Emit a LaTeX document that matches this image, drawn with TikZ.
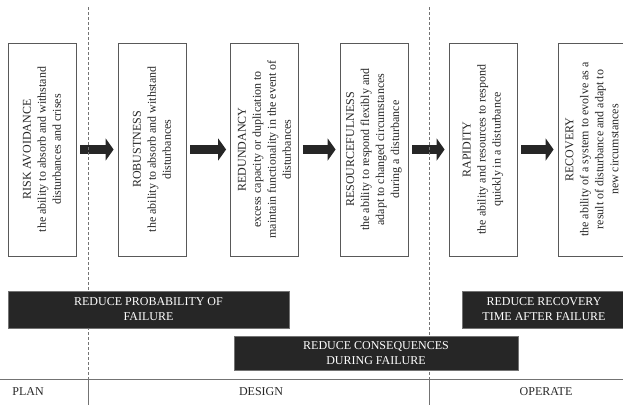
\documentclass[tikz,border=0pt]{standalone}
\usepackage{fontspec}
\setmainfont{Liberation Serif}
\usetikzlibrary{arrows.meta}

\tikzset{
	stage/.style={draw=black!65, line width=0.8pt, rotate=90, minimum width=213pt, minimum height=68pt, inner sep=2pt, align=center, text=black!85, font=\fontsize{12}{15}\selectfont},
	goal/.style={fill=black!85, draw=black!55, text=white, align=center, inner sep=0pt, font=\fontsize{12}{15}\selectfont},
	flow/.style={line width=9pt, black!85, -{Triangle[length=8pt,width=22pt]}, shorten <=4pt, shorten >=4pt},
	phase/.style={black!55, dash pattern=on 3pt off 2pt, line width=0.9pt},
	phasename/.style={text=black!85, font=\fontsize{12}{15}\selectfont},
}

\begin{document}
\begin{tikzpicture}[x=1pt, y=-1pt]
	\useasboundingbox (0,0) rectangle (623,405);

	% Draw stages
	\node[stage] (risk) at (42,149.5) {RISK AVOIDANCE\\the ability to absorb and withstand\\disturbances and crises};
	\node[stage] (robust) at (152,149.5) {ROBUSTNESS\\the ability to absorb and withstand\\disturbances};
	\node[stage] (redund) at (264.5,149.5) {REDUNDANCY\\excess capacity or duplication to\\maintain functionality in the event of\\disturbances};
	\node[stage] (resource) at (374,149.5) {RESOURCEFULNESS\\the ability to respond flexibly and\\adapt to changed circumstances\\during a disturbance};
	\node[stage] (rapid) at (483,149.5) {RAPIDITY\\the ability and resources to respond\\quickly in a disturbance};
	\node[stage] (recover) at (592,149.5) {RECOVERY\\the ability of a system to evolve as a\\result of disturbance and adapt to\\new circumstances};

	% Arrows between stages
	\draw[flow] (risk) -- (robust);
	\draw[flow] (robust) -- (redund);
	\draw[flow] (redund) -- (resource);
	\draw[flow] (resource) -- (rapid);
	\draw[flow] (rapid) -- (recover);

	% Phase borders
	\coordinate (plantop) at (88,7);
	\coordinate (planmid) at (88,379);
	\coordinate (planbot) at (88,405);
	\coordinate (designtop) at (429,7);
	\coordinate (designmid) at (429,379);
	\coordinate (designbot) at (429,405);
	\draw[phase] (plantop) -- (planmid);
	\draw[phase] (designtop) -- (designmid);
	\draw[black!55, line width=0.9pt] (planmid) -- (planbot);
	\draw[black!55, line width=0.9pt] (designmid) -- (designbot);
	\draw[black!55, line width=0.9pt] (0,379) -- (623,379);

	% Aims
	\node[goal, minimum width=281pt, minimum height=37pt] (probability) at (148.5,309.5) {REDUCE PROBABILITY OF\\FAILURE};
	\node[goal, minimum width=284pt, minimum height=34pt] (consequence) at (376,353) {REDUCE CONSEQUENCES\\DURING FAILURE};
	\node[goal, minimum width=164pt, minimum height=37pt] (recoverytime) at (544,309.5) {REDUCE RECOVERY\\TIME AFTER FAILURE};

	% Phase names
	\node[phasename] (plan) at (28,392) {PLAN};
	\node[phasename] (design) at (261,392) {DESIGN};
	\node[phasename] (operate) at (546,392) {OPERATE};

\end{tikzpicture}
\end{document}
